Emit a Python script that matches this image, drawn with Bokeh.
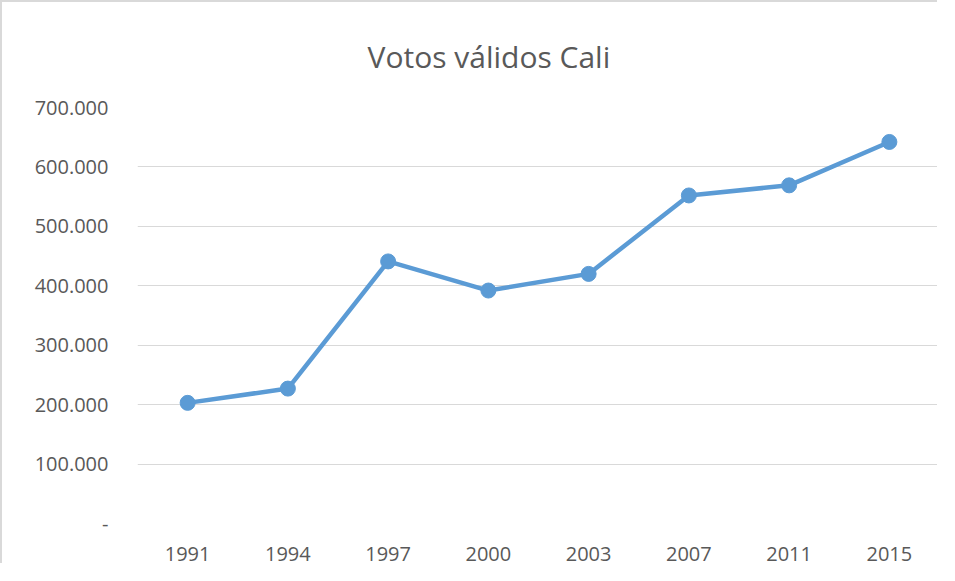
from bokeh.plotting import figure
from bokeh.models import FactorRange, Range1d, FixedTicker, Title
from bokeh.embed import file_html
from bokeh.resources import INLINE

years = ["1991", "1994", "1997", "2000", "2003", "2007", "2011", "2015"]
votos = [203000, 227000, 441000, 392000, 420000, 552000, 569000, 642000]
y_ticks = [0, 100000, 200000, 300000, 400000, 500000, 600000, 700000]
y_tick_labels = ["-", "100.000", "200.000", "300.000", "400.000", "500.000", "600.000", "700.000"]

FONT = "Open Sans"
GRAY = "#595959"
BLUE = "#5b9bd5"

p = figure(width=937, height=563, x_range=FactorRange(*years, range_padding=0),
           y_range=Range1d(0, 700000), output_backend="svg", toolbar_location=None,
           min_border_left=135, min_border_right=0, min_border_top=105, min_border_bottom=42)
p.styles = {"border-left": "2px solid #d9d9d9", "border-top": "2px solid #d9d9d9"}

p.title = Title(text="Votos válidos Cali", align="left", offset=230, standoff=62,
                text_font=FONT, text_font_size="30px", text_font_style="normal", text_color=GRAY)

p.line(years, votos, line_color=BLUE, line_width=4.5)
p.scatter(years, votos, size=15, fill_color=BLUE, line_color=BLUE)

p.outline_line_color = None
p.xgrid.grid_line_color = None
p.ygrid.grid_line_color = "#d9d9d9"
p.ygrid.grid_line_width = 1

p.yaxis.ticker = FixedTicker(ticks=y_ticks)
p.yaxis.major_label_overrides = {t: l for t, l in zip(y_ticks, y_tick_labels)}
for ax in (p.xaxis[0], p.yaxis[0]):
    ax.axis_line_color = None
    ax.major_tick_line_color = None
    ax.minor_tick_line_color = None
    ax.major_tick_out = 0
    ax.major_tick_in = 0
    ax.major_label_text_font = FONT
    ax.major_label_text_font_size = "20px"
    ax.major_label_text_color = GRAY
p.yaxis.major_label_standoff = 29
p.xaxis.major_label_standoff = 23

open("out.html", "w").write(file_html(p, INLINE))
